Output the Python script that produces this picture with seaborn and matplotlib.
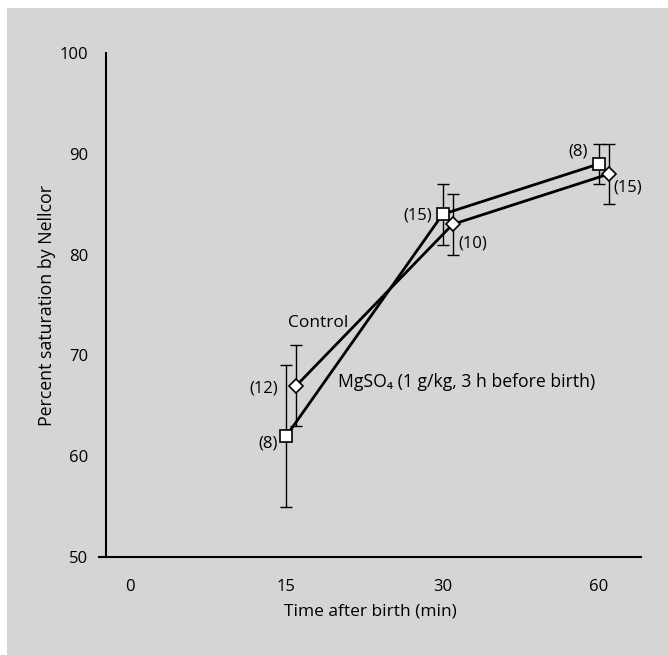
import matplotlib
matplotlib.use("Agg")
import matplotlib.pyplot as plt
import matplotlib.patches as mpatches
import seaborn as sns
import pandas as pd
import numpy as np

# ---- data ----
time_labels = ["0", "15", "30", "60"]
time_idx = [1, 2, 3]            # category index of 15, 30, 60 min
control_mean = [67, 83, 88]
control_err = [4, 3, 3]
control_n = ["(12)", "(10)", "(15)"]
mg_mean = [62, 84, 89]
mg_err = [7, 3, 2]
mg_n = ["(8)", "(15)", "(8)"]
y_ticks = [50, 60, 70, 80, 90, 100]

sns.set_theme(style="white")
plt.rcParams['font.family'] = ['Open Sans', 'DejaVu Sans']
plt.rcParams['text.color'] = 'black'
plt.rcParams['axes.labelcolor'] = 'black'
plt.rcParams['xtick.color'] = 'black'
plt.rcParams['ytick.color'] = 'black'

W, H = 668, 655
fig = plt.figure(figsize=(W / 100, H / 100), dpi=100)
fig.patch.set_facecolor("white")
# gray panel behind everything
fig.patches.append(mpatches.Rectangle((7 / W, 0), 1 - 7 / W, 1 - 8 / H,
                                      transform=fig.transFigure,
                                      facecolor="#d5d5d5", edgecolor="none", zorder=-10))

ax = fig.add_axes([99 / W, 1 - 557 / H, (641 - 99) / W, (557 - 53) / H])
ax.set_facecolor("none")
ax.set_zorder(1)

off = 0.064
df = pd.DataFrame({
    "x": [i + off for i in time_idx] + [float(i) for i in time_idx],
    "y": control_mean + mg_mean,
    "group": ["Control"] * 3 + ["MgSO4"] * 3,
})

# error bars
ax.errorbar([i + off for i in time_idx], control_mean, yerr=control_err,
            fmt="none", ecolor="black", elinewidth=1.0, capsize=4, capthick=1.0, zorder=2)
ax.errorbar(time_idx, mg_mean, yerr=mg_err,
            fmt="none", ecolor="black", elinewidth=1.0, capsize=4, capthick=1.0, zorder=2)

sns.lineplot(data=df, x="x", y="y", hue="group", style="group",
             palette={"Control": "black", "MgSO4": "black"},
             markers={"Control": "D", "MgSO4": "s"},
             dashes=False, linewidth=2.0, markersize=9,
             markerfacecolor="white", markeredgecolor="black", markeredgewidth=1.2,
             legend=False, ax=ax, zorder=3)
for l in ax.lines:
    if l.get_marker() == "D":
        l.set_markersize(7.5)

ax.set_xlim(-0.198, 3.269)
ax.set_ylim(50, 100)
ax.set_xticks(range(len(time_labels)))
ax.set_xticklabels(time_labels)
ax.set_yticks(y_ticks)
ax.set_yticklabels([str(t) for t in y_ticks])

for s in ["top", "right"]:
    ax.spines[s].set_visible(False)
ax.spines["left"].set_position(("data", -0.1535))
for s in ["left", "bottom"]:
    ax.spines[s].set_color("black")
    ax.spines[s].set_linewidth(1.5)
ax.tick_params(axis="both", which="both", direction="out", length=7, width=1.2,
               color="black", labelsize=12, labelcolor="black", pad=6)
ax.tick_params(axis="x", pad=8, length=8)

ax.set_xlabel("Time after birth (min)", fontsize=12.5, color="black", labelpad=6)
ax.set_ylabel("Percent saturation by Nellcor", fontsize=12.8, color="black", labelpad=2)

# n labels
fs = 12
ax.text(1 + off - 0.12, 66.7, control_n[0], ha="right", va="center", fontsize=fs)
ax.text(1 - 0.056, 61.3, mg_n[0], ha="right", va="center", fontsize=fs)
ax.text(2 - 0.07, mg_mean[1] - 0.1, mg_n[1], ha="right", va="center", fontsize=fs)
ax.text(2 + off + 0.04, control_mean[1] - 1.9, control_n[1], ha="left", va="center", fontsize=fs)
ax.text(3 - 0.07, mg_mean[2] + 1.2, mg_n[2], ha="right", va="center", fontsize=fs)
ax.text(3 + off + 0.03, control_mean[2] - 1.3, control_n[2], ha="left", va="center", fontsize=fs)

# series labels
ax.text(1.01, 73.2, "Control", ha="left", va="center", fontsize=12.5)
ax.text(1.333, 67.4, "MgSO₄ (1 g/kg, 3 h before birth)", ha="left", va="center", fontsize=12.7,
        family=['Open Sans', 'DejaVu Sans'])

fig.savefig("out.png", dpi=100)
